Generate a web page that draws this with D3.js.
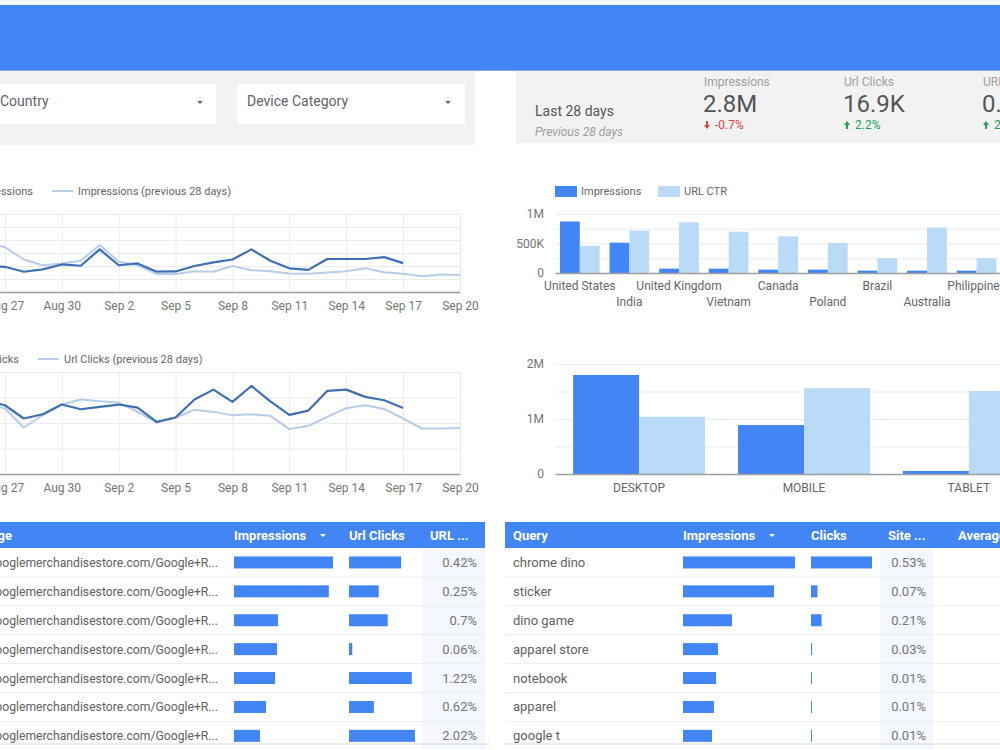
<!DOCTYPE html>
<html>
<head>
<meta charset="utf-8">
<script src="https://cdn.jsdelivr.net/npm/d3@7"></script>
<style>
body { margin: 0; background: #fff; overflow: hidden; }
svg { display: block; font-family: Roboto, "Noto Sans", sans-serif; }
</style>
</head>
<body>
<div class="container"></div>
<script>
// ---- data ----
const dates = ['2019-08-24','2019-08-25','2019-08-26','2019-08-27','2019-08-28','2019-08-29','2019-08-30',
  '2019-08-31','2019-09-01','2019-09-02','2019-09-03','2019-09-04','2019-09-05','2019-09-06','2019-09-07',
  '2019-09-08','2019-09-09','2019-09-10','2019-09-11','2019-09-12','2019-09-13','2019-09-14','2019-09-15',
  '2019-09-16','2019-09-17','2019-09-18','2019-09-19','2019-09-20'];
const tickDates = ['2019-08-27','2019-08-30','2019-09-02','2019-09-05','2019-09-08','2019-09-11','2019-09-14','2019-09-17','2019-09-20'];

// current period stops at Sep 17, previous period covers all 28 days
const impCur = [95000, 92000, 100000, 97000, 78000, 87000, 106000, 101000, 164000, 103000, 110000, 78000, 79000,
  100000, 114000, 125000, 164000, 120000, 91000, 85000, 127000, 127000, 127000, 134000, 111000];
const impPrev = [160000, 175000, 190000, 172000, 125000, 103000, 110000, 120000, 181000, 116000, 103000, 69000, 69000,
  80000, 78000, 100000, 84000, 80000, 71000, 70000, 75000, 80000, 91000, 76000, 70000, 61000, 67000, 65000];
const clkCur = [690, 650, 720, 674, 544, 586, 681, 635, 658, 681, 651, 511, 554, 730, 827, 707, 863, 713, 580, 622,
  814, 827, 756, 723, 648];
const clkPrev = [620, 660, 700, 642, 456, 577, 681, 730, 713, 700, 609, 505, 554, 629, 609, 577, 586, 570, 440, 472,
  560, 645, 674, 638, 544, 446, 446, 450];

const countries = ['United States','India','United Kingdom','Vietnam','Canada','Poland','Brazil','Australia','Philippines','Germany'];
const countryImp = [874000, 514000, 74000, 74000, 57000, 57000, 40000, 40000, 40000, 35000];
const countryCtr = [0.46, 0.72, 0.86, 0.70, 0.62, 0.51, 0.25, 0.77, 0.25, 0.5];

const devices = ['DESKTOP','MOBILE','TABLET'];
const deviceImp = [1800000, 890000, 55000];
const deviceCtr = [0.52, 0.78, 0.755];

const scoreLabels = ['Impressions','Url Clicks','URL CTR'];
const scoreValues = ['2.8M','16.9K','0.6%'];
const scoreDeltas = [-0.7, 2.2, 2.9];

const pages = Array(7).fill('https://shop.googlemerchandisestore.com/Google+R...');
const pageImp = [190000, 182000, 84500, 82500, 78800, 61500, 50000];
const pageClk = [798, 455, 592, 50, 961, 381, 1010];

const queries = ['chrome dino','sticker','dino game','apparel store','notebook','apparel','google t'];
const queryImp = [115000, 93400, 50300, 35900, 33900, 31800, 29800];
const queryClk = [610, 65, 106, 11, 3, 3, 3];

// ---- setup ----
const BLUE = '#4285f4', LIGHT = '#b9dbf8', DARKLINE = '#3f6fb3', LIGHTLINE = '#b6cde9';
const parse = d3.timeParse('%Y-%m-%d');
const pct = d3.format('.2~%');

const svg = d3.select('.container').append('svg')
  .attr('width', 1000).attr('height', 750);

svg.append('rect').attr('width', 1000).attr('height', 750).attr('fill', '#fff');

// header bar
svg.append('rect').attr('width', 1000).attr('height', 6).attr('fill', '#f5f8fc');
svg.append('rect').attr('y', 5).attr('width', 1000).attr('height', 66).attr('fill', '#8aa8d8');
svg.append('rect').attr('y', 5).attr('width', 1000).attr('height', 65).attr('fill', BLUE);

// filter panel
svg.append('rect').attr('x', 0).attr('y', 71).attr('width', 475).attr('height', 74).attr('fill', '#f2f2f2');
const filters = [{label: 'Country', x: -40, w: 256, tx: 0, ax: 200}, {label: 'Device Category', x: 237, w: 228, tx: 247, ax: 448}];
filters.forEach(f => {
  svg.append('rect').attr('x', f.x).attr('y', 84).attr('width', f.w).attr('height', 40).attr('fill', '#fff');
  svg.append('text').attr('x', f.tx).attr('y', 106).attr('font-size', 14).attr('fill', '#5f6368').text(f.label);
  svg.append('path').attr('d', `M${f.ax - 3},101 L${f.ax + 3},101 L${f.ax},104 Z`).attr('fill', '#666');
});

// scorecard panel
svg.append('rect').attr('x', 516).attr('y', 71).attr('width', 484).attr('height', 72).attr('fill', '#f2f2f2');
svg.append('text').attr('x', 535).attr('y', 116).attr('font-size', 14).attr('fill', '#555').text('Last 28 days');
svg.append('text').attr('x', 535).attr('y', 136).attr('font-size', 12).attr('font-style', 'italic')
  .attr('fill', '#9e9e9e').text('Previous 28 days');
const scoreX = [704, 844, 983];
scoreLabels.forEach((lab, i) => {
  const x = scoreX[i];
  svg.append('text').attr('x', x).attr('y', 86).attr('font-size', 12).attr('fill', '#9e9e9e').text(lab);
  svg.append('text').attr('x', x - 1).attr('y', 112).attr('font-size', 24).attr('fill', '#555').text(scoreValues[i]);
  const up = scoreDeltas[i] >= 0;
  const col = up ? '#21a05c' : '#e0443a';
  const ay = 125;
  svg.append('path')
    .attr('d', up ? `M${x + 2},${ay + 4} L${x + 2},${ay} L${x},${ay} L${x + 3},${ay - 4} L${x + 6},${ay} L${x + 4},${ay} L${x + 4},${ay + 4} Z`
                  : `M${x + 2},${ay - 4} L${x + 2},${ay} L${x},${ay} L${x + 3},${ay + 4} L${x + 6},${ay} L${x + 4},${ay} L${x + 4},${ay - 4} Z`)
    .attr('fill', col);
  svg.append('text').attr('x', x + 11).attr('y', 129).attr('font-size', 12).attr('fill', col)
    .text(scoreDeltas[i] + '%');
});

// ---- time series charts ----
function timeChart(o) {
  const g = svg.append('g');
  const x = d3.scaleTime().domain([parse(dates[0]), parse(dates[dates.length - 1])]).range([-52, 460]);
  const y = d3.scaleLinear().domain([0, o.max]).range([o.bottom, o.top]);

  // horizontal grid
  g.append('g').attr('transform', 'translate(460,0)')
    .call(d3.axisLeft(y).tickValues(d3.range(o.step, o.max + 1, o.step)).tickSize(530).tickFormat(''))
    .call(a => a.select('.domain').remove())
    .call(a => a.selectAll('line').attr('stroke', '#ebebeb'));

  // x axis + vertical grid
  g.append('g').attr('transform', `translate(0,${o.bottom})`)
    .call(d3.axisBottom(x).tickValues(tickDates.map(parse)).tickFormat(d3.timeFormat('%b %-d'))
      .tickSize(-(o.bottom - o.top)).tickSizeOuter(0).tickPadding(9))
    .call(a => a.select('.domain').attr('stroke', '#9e9e9e').attr('stroke-width', 1.5))
    .call(a => a.selectAll('.tick line').attr('stroke', '#ebebeb'))
    .call(a => a.selectAll('text').attr('fill', '#757575').attr('font-size', 12).attr('font-family', 'Roboto, sans-serif'));

  const line = d3.line().x(d => x(d.date)).y(d => y(d.v));
  const prev = o.prev.map((v, i) => ({date: parse(dates[i]), v}));
  const cur = o.cur.map((v, i) => ({date: parse(dates[i]), v}));
  g.append('path').datum(prev).attr('d', line).attr('fill', 'none')
    .attr('stroke', LIGHTLINE).attr('stroke-width', 2).attr('stroke-linejoin', 'round');
  g.append('path').datum(cur).attr('d', line).attr('fill', 'none')
    .attr('stroke', DARKLINE).attr('stroke-width', 2.2).attr('stroke-linejoin', 'round');

  // legend
  g.append('line').attr('x1', o.curEnd - 85).attr('x2', o.curEnd - 65).attr('y1', o.legendY).attr('y2', o.legendY)
    .attr('stroke', DARKLINE).attr('stroke-width', 2);
  g.append('text').attr('x', o.curEnd).attr('y', o.legendY + 4).attr('text-anchor', 'end')
    .attr('font-size', 11).attr('fill', '#666').text(o.curLabel);
  g.append('line').attr('x1', o.curEnd + 19).attr('x2', o.curEnd + 40).attr('y1', o.legendY).attr('y2', o.legendY)
    .attr('stroke', LIGHTLINE).attr('stroke-width', 2);
  g.append('text').attr('x', o.curEnd + 45).attr('y', o.legendY + 4)
    .attr('font-size', 11).attr('fill', '#666').text(o.curLabel + ' (previous 28 days)');
}

timeChart({top: 214, bottom: 292, max: 300000, step: 50000, cur: impCur, prev: impPrev,
  curLabel: 'Impressions', curEnd: 33, legendY: 191});
timeChart({top: 372, bottom: 474, max: 1000, step: 250, cur: clkCur, prev: clkPrev,
  curLabel: 'Url Clicks', curEnd: 19, legendY: 359});

// ---- grouped bar charts ----
const fmtAxis = v => v === 0 ? '0' : v >= 1e6 ? (v / 1e6) + 'M' : (v / 1e3) + 'K';

function barChart(o) {
  const g = svg.append('g');
  const x0 = d3.scaleBand().domain(o.cats).range(o.xr).paddingInner(0.2).paddingOuter(o.outer);
  const x1 = d3.scaleBand().domain(['imp', 'ctr']).range([0, x0.bandwidth()]);
  const y = d3.scaleLinear().domain([0, o.max]).range([o.bottom, o.top]);
  const yCtr = d3.scaleLinear().domain([0, 1]).range([o.bottom, o.top]);

  g.append('g').attr('transform', `translate(${o.xr[0]},0)`)
    .call(d3.axisLeft(y).tickValues(d3.range(0, o.max + 1, o.max / 4)).tickSize(-460).tickPadding(11)
      .tickFormat(v => o.labels.includes(v) ? fmtAxis(v) : ''))
    .call(a => a.select('.domain').remove())
    .call(a => a.selectAll('line').attr('stroke', '#ebebeb'))
    .call(a => a.selectAll('text').attr('fill', '#757575').attr('font-size', 12).attr('font-family', 'Roboto, sans-serif'));

  const groups = g.selectAll('.grp').data(o.cats).join('g')
    .attr('transform', d => `translate(${x0(d)},0)`);
  groups.append('rect')
    .attr('x', x1('imp')).attr('width', x1.bandwidth())
    .attr('y', (d, i) => y(o.imp[i])).attr('height', (d, i) => o.bottom - y(o.imp[i]))
    .attr('fill', BLUE);
  groups.append('rect')
    .attr('x', x1('ctr')).attr('width', x1.bandwidth())
    .attr('y', (d, i) => yCtr(o.ctr[i])).attr('height', (d, i) => o.bottom - yCtr(o.ctr[i]))
    .attr('fill', LIGHT);

  g.append('g').attr('transform', `translate(0,${o.bottom})`)
    .call(d3.axisBottom(x0).tickSize(0).tickPadding(o.pad))
    .call(a => a.select('.domain').attr('stroke', '#9e9e9e').attr('stroke-width', 1.5))
    .call(a => a.selectAll('text').attr('fill', '#666').attr('font-size', 12).attr('font-family', 'Roboto, sans-serif')
      .attr('y', (d, i) => o.stagger && i % 2 ? o.pad + 16 : o.pad));
}

barChart({cats: countries, imp: countryImp, ctr: countryCtr, xr: [555, 1051], outer: 0.1,
  top: 214, bottom: 273, max: 1e6, labels: [0, 500000, 1e6], stagger: true, pad: 8});
barChart({cats: devices, imp: deviceImp, ctr: deviceCtr, xr: [555, 1053], outer: 0.11,
  top: 364, bottom: 474, max: 2e6, labels: [0, 1e6, 2e6], stagger: false, pad: 9});

// legend for country chart
[{c: BLUE, t: 'Impressions', x: 555}, {c: LIGHT, t: 'URL CTR', x: 658}].forEach(l => {
  svg.append('rect').attr('x', l.x).attr('y', 186).attr('width', 22).attr('height', 11).attr('fill', l.c);
  svg.append('text').attr('x', l.x + 26).attr('y', 195).attr('font-size', 11).attr('fill', '#666').text(l.t);
});

// ---- tables ----
const ROW = 28.9, HEAD_Y = 522, HEAD_H = 26;

function table(o) {
  const g = svg.append('g');
  g.append('rect').attr('x', o.x0).attr('y', HEAD_Y).attr('width', o.x1 - o.x0).attr('height', HEAD_H).attr('fill', BLUE);
  g.append('rect').attr('x', o.ctrBg[0]).attr('y', HEAD_Y + HEAD_H).attr('width', o.ctrBg[1] - o.ctrBg[0])
    .attr('height', 7 * ROW).attr('fill', '#f4f7fd');
  o.heads.forEach(h => {
    g.append('text').attr('x', h.x).attr('y', HEAD_Y + 18).attr('font-size', 13).attr('font-weight', 'bold')
      .attr('fill', '#fff').attr('text-anchor', h.anchor || 'start').text(h.t);
  });
  g.append('path').attr('d', `M${o.arrowX - 3},${HEAD_Y + 12} L${o.arrowX + 3},${HEAD_Y + 12} L${o.arrowX},${HEAD_Y + 15} Z`)
    .attr('fill', '#fff');

  const xImp = d3.scaleLinear().domain([0, d3.max(o.imp)]).range([0, o.impW]);
  const xClk = d3.scaleLinear().domain([0, d3.max(o.clk)]).range([0, o.clkW]);

  const rows = g.selectAll('.row').data(o.names).join('g')
    .attr('transform', (d, i) => `translate(0,${HEAD_Y + HEAD_H + i * ROW})`);
  rows.filter((d, i) => i > 0).append('line').attr('x1', o.x0).attr('x2', o.x1).attr('stroke', '#eeeeee');
  rows.append('text').attr('x', o.nameX).attr('y', ROW / 2 + 4.5).attr('text-anchor', o.nameAnchor)
    .attr('font-size', o.nameSize).attr('fill', '#616161').text(d => d);
  rows.append('rect').attr('x', o.impX).attr('y', ROW / 2 - 6).attr('height', 12)
    .attr('width', (d, i) => xImp(o.imp[i])).attr('fill', BLUE);
  rows.append('rect').attr('x', o.clkX).attr('y', ROW / 2 - 6).attr('height', 12)
    .attr('width', (d, i) => Math.max(1, xClk(o.clk[i]))).attr('fill', BLUE);
  rows.append('text').attr('x', o.ctrX).attr('y', ROW / 2 + 4.5).attr('text-anchor', 'end')
    .attr('font-size', 13).attr('fill', '#757575').text((d, i) => pct(o.clk[i] / o.imp[i]));

  g.append('line').attr('x1', o.x0).attr('x2', o.x1 + 5).attr('y1', 744).attr('y2', 744).attr('stroke', '#d6d6d6');
}

table({x0: -10, x1: 485, names: pages, imp: pageImp, clk: pageClk, nameSize: 12.2,
  heads: [{t: 'Page', x: 12, anchor: 'end'}, {t: 'Impressions', x: 234}, {t: 'Url Clicks', x: 349}, {t: 'URL ...', x: 430}],
  arrowX: 323, nameX: 218, nameAnchor: 'end', impX: 234, impW: 99, clkX: 349, clkW: 66, ctrX: 477, ctrBg: [423, 485]});

table({x0: 505, x1: 1010, names: queries, imp: queryImp, clk: queryClk, nameSize: 13,
  heads: [{t: 'Query', x: 513}, {t: 'Impressions', x: 683}, {t: 'Clicks', x: 811}, {t: 'Site ...', x: 888}, {t: 'Average ...', x: 958}],
  arrowX: 772, nameX: 513, nameAnchor: 'start', impX: 683, impW: 112, clkX: 811, clkW: 61, ctrX: 926, ctrBg: [880, 933]});
</script>
</body>
</html>
